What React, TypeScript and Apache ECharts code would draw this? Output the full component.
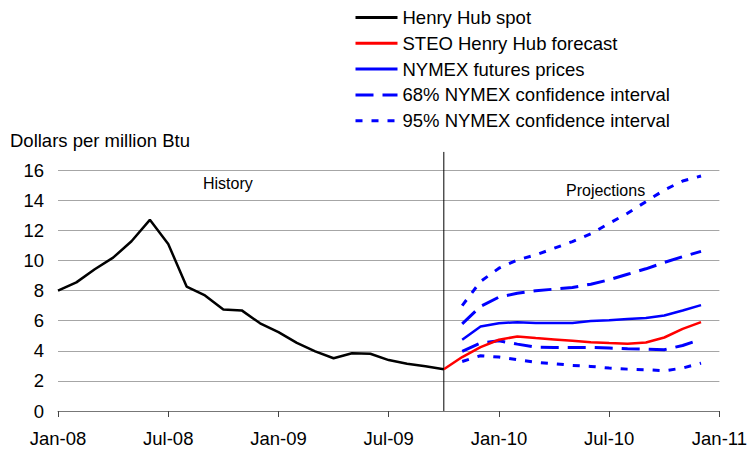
import React, { useEffect, useRef } from "react";
import * as echarts from "echarts";

// Month index 0 = Jan-08
const tickLabels = ["Jan-08", "Jul-08", "Jan-09", "Jul-09", "Jan-10", "Jul-10", "Jan-11"];

const historyStart = 0; // Jan-08
const henryHubSpot = [
  7.99, 8.54, 9.41, 10.18, 11.27, 12.69, 11.09, 8.26, 7.67, 6.74, 6.68, 5.82,
  5.24, 4.52, 3.96, 3.5, 3.83, 3.8, 3.38, 3.14, 2.97, 2.77,
];

const steoStart = 21; // Oct-09
const steoForecast = [
  2.77, 3.58, 4.24, 4.73, 4.95, 4.84, 4.75, 4.66, 4.57, 4.51, 4.46, 4.55, 4.88, 5.45, 5.9,
];

const nymexStart = 22; // Nov-09
const nymexFutures = [4.73, 5.61, 5.83, 5.9, 5.85, 5.84, 5.85, 5.97, 6.03, 6.1, 6.17, 6.34, 6.67, 7.03];
const ci68Upper = [5.79, 6.94, 7.56, 7.82, 7.98, 8.09, 8.2, 8.42, 8.71, 9.08, 9.44, 9.86, 10.25, 10.6];
const ci68Lower = [3.96, 4.51, 4.66, 4.44, 4.24, 4.22, 4.22, 4.22, 4.18, 4.13, 4.11, 4.07, 4.35, 4.75];
const ci95Upper = [7.0, 8.6, 9.48, 10.03, 10.36, 10.8, 11.25, 11.76, 12.46, 13.13, 13.9, 14.67, 15.27, 15.6];
const ci95Lower = [3.29, 3.67, 3.58, 3.4, 3.23, 3.14, 3.03, 2.96, 2.85, 2.78, 2.74, 2.67, 2.85, 3.18];

const dividerMonth = 21;
const dividerRange = [0, 17.2];

const toPairs = (start: number, arr: number[]) => arr.map((v, i) => [start + i, v]);

const FONT = "Liberation Sans, Arial, sans-serif";
const FS = 18.5;

export default function App() {
  const ref = useRef<HTMLDivElement>(null);
  useEffect(() => {
    if (!ref.current) return;
    const chart = echarts.init(ref.current, undefined, { renderer: "svg" });
    const blue = "#0000ff";
    chart.setOption({
      animation: false,
      textStyle: { fontFamily: FONT },
      grid: { left: 58, right: 29, top: 170, bottom: 40, containLabel: false },
      legend: {
        data: [
          "Henry Hub spot",
          "STEO Henry Hub forecast",
          "NYMEX futures prices",
          "68% NYMEX confidence interval",
          "95% NYMEX confidence interval",
        ],
        orient: "vertical",
        left: 349,
        top: 3,
        padding: 5,
        itemWidth: 42,
        itemHeight: 16,
        itemGap: 6.8,
        itemStyle: { opacity: 0 },
        lineStyle: { width: 3 },
        textStyle: { fontSize: FS, color: "#000", fontFamily: FONT },
      },
      xAxis: {
        type: "value",
        min: 0,
        max: 36,
        interval: 6,
        axisLine: { lineStyle: { color: "#777", width: 1 } },
        axisTick: { show: true, length: 6, lineStyle: { color: "#444" } },
        splitLine: { show: false },
        axisLabel: {
          fontSize: FS,
          color: "#000",
          margin: 18,
          fontFamily: FONT,
          formatter: (v: number) => tickLabels[Math.round(v / 6)] ?? "",
        },
      },
      yAxis: {
        type: "value",
        min: 0,
        max: 16,
        interval: 2,
        axisLine: { show: false },
        axisTick: { show: false },
        splitLine: { lineStyle: { color: "#a6a6a6", width: 1 } },
        axisLabel: { fontSize: FS, color: "#000", margin: 14, fontFamily: FONT },
      },
      graphic: [
        {
          type: "text",
          left: 10,
          top: 131,
          style: { text: "Dollars per million Btu", fill: "#000", font: `${FS}px ${FONT}` },
        },
        {
          type: "text",
          left: 203,
          top: 175,
          style: { text: "History", fill: "#000", font: `16px ${FONT}` },
        },
        {
          type: "text",
          left: 566,
          top: 182,
          style: { text: "Projections", fill: "#000", font: `16px ${FONT}` },
        },
      ],
      series: [
        {
          name: "divider",
          type: "line",
          data: dividerRange.map((v) => [dividerMonth, v]),
          symbol: "none",
          clip: false,
          silent: true,
          lineStyle: { color: "#000", width: 1 },
          z: 1,
        },
        {
          name: "95% NYMEX confidence interval",
          type: "line",
          data: toPairs(nymexStart, ci95Upper),
          symbol: "none",
          color: blue,
          lineStyle: { color: blue, width: 3, type: [7, 9] },
        },
        {
          name: "95% NYMEX confidence interval",
          type: "line",
          data: toPairs(nymexStart, ci95Lower),
          symbol: "none",
          color: blue,
          lineStyle: { color: blue, width: 3, type: [7, 9] },
        },
        {
          name: "68% NYMEX confidence interval",
          type: "line",
          data: toPairs(nymexStart, ci68Upper),
          symbol: "none",
          color: blue,
          lineStyle: { color: blue, width: 3, type: [18, 9] },
        },
        {
          name: "68% NYMEX confidence interval",
          type: "line",
          data: toPairs(nymexStart, ci68Lower),
          symbol: "none",
          color: blue,
          lineStyle: { color: blue, width: 3, type: [18, 9] },
        },
        {
          name: "NYMEX futures prices",
          type: "line",
          data: toPairs(nymexStart, nymexFutures),
          symbol: "none",
          color: blue,
          lineStyle: { color: blue, width: 2.5 },
        },
        {
          name: "STEO Henry Hub forecast",
          type: "line",
          data: toPairs(steoStart, steoForecast),
          symbol: "none",
          color: "#ff0000",
          lineStyle: { color: "#ff0000", width: 2.5 },
        },
        {
          name: "Henry Hub spot",
          type: "line",
          data: toPairs(historyStart, henryHubSpot),
          symbol: "none",
          color: "#000",
          lineStyle: { color: "#000", width: 2.5 },
        },
      ],
    });
    return () => chart.dispose();
  }, []);
  return (
    <div
      ref={ref}
      style={{ position: "fixed", left: 0, top: 0, width: 750, height: 451, background: "#fff" }}
    />
  );
}
